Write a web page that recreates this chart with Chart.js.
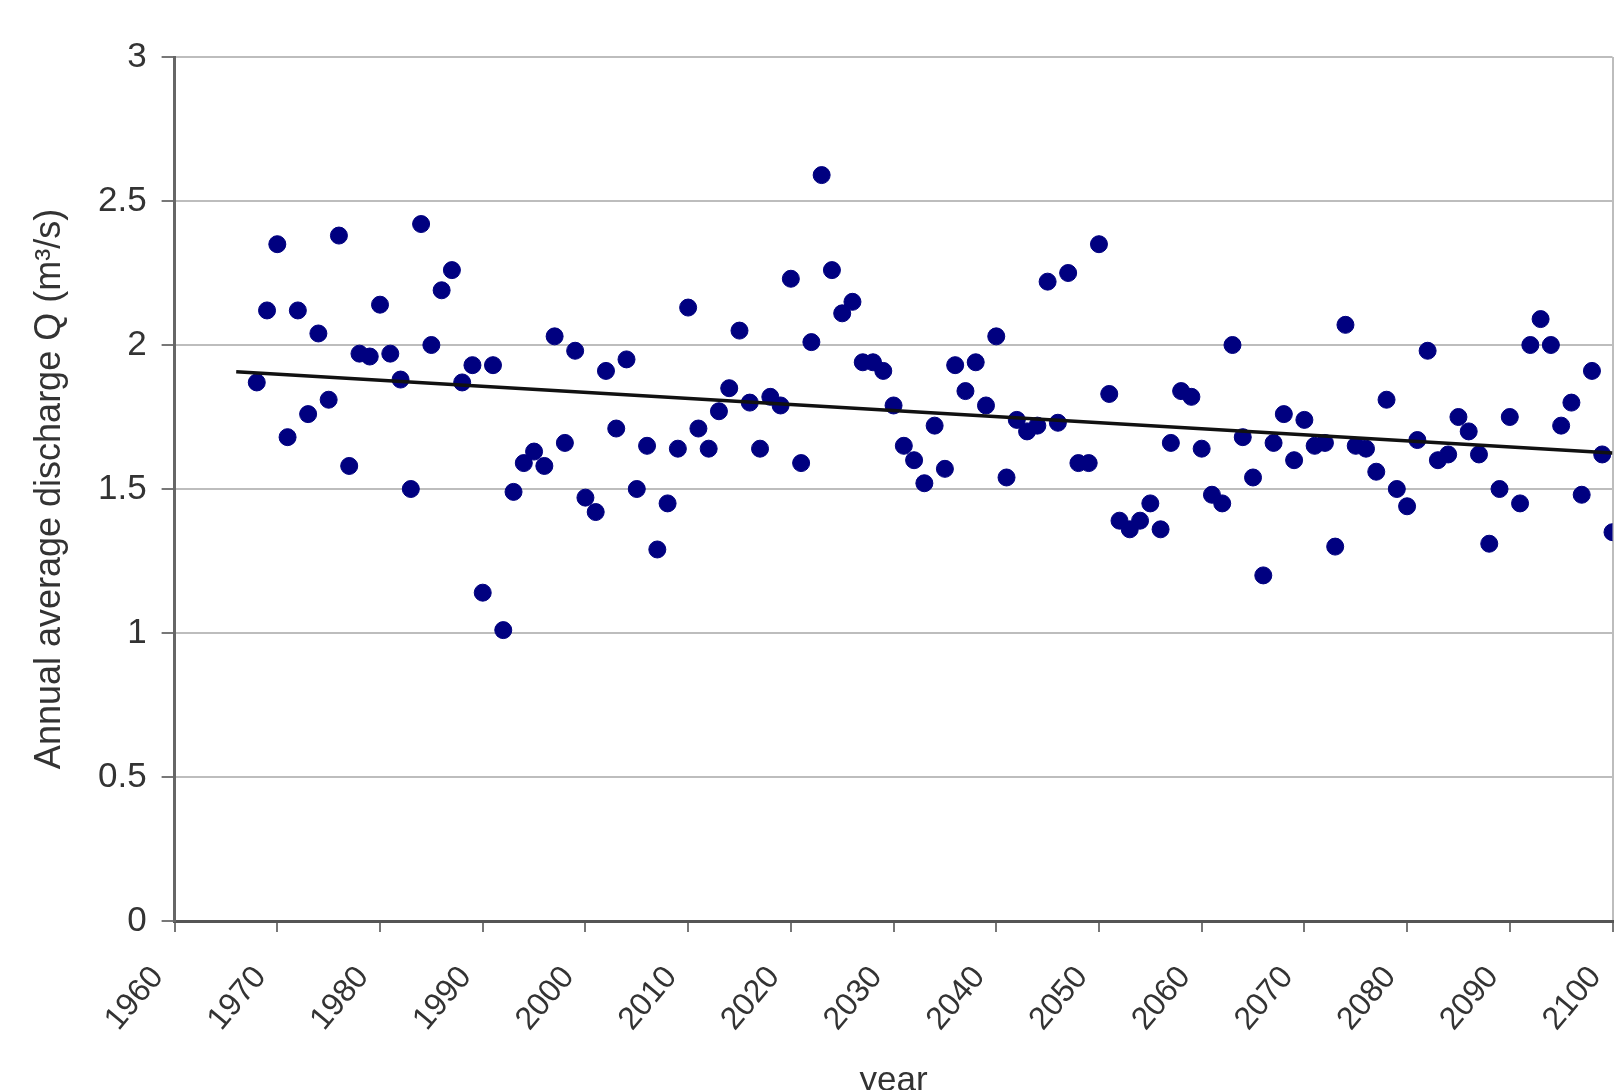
<!DOCTYPE html>
<html>
<head>
<meta charset="utf-8">
<script src="https://cdn.jsdelivr.net/npm/chart.js@4.4.1/dist/chart.umd.min.js"></script>
<style>
  html, body { margin: 0; padding: 0; background: #fff; }
  #wrap { width: 1622px; height: 1090px; }
</style>
</head>
<body>
<div id="wrap"><canvas id="chart" width="1622" height="1090"></canvas></div>
<script>
// yearly values
var years = [
  1968, 1969, 1970, 1971, 1972, 1973, 1974, 1975, 1976, 1977, 1978, 1979,
  1980, 1981, 1982, 1983, 1984, 1985, 1986, 1987, 1988, 1989,
  1990, 1991, 1992, 1993, 1994, 1995, 1996, 1997, 1998, 1999,
  2000, 2001, 2002, 2003, 2004, 2005, 2006, 2007, 2008, 2009,
  2010, 2011, 2012, 2013, 2014, 2015, 2016, 2017, 2018, 2019,
  2020, 2021, 2022, 2023, 2024, 2025, 2026, 2027, 2028, 2029,
  2030, 2031, 2032, 2033, 2034, 2035, 2036, 2037, 2038, 2039,
  2040, 2041, 2042, 2043, 2044, 2045, 2046, 2047, 2048, 2049,
  2050, 2051, 2052, 2053, 2054, 2055, 2056, 2057, 2058, 2059,
  2060, 2061, 2062, 2063, 2064, 2065, 2066, 2067, 2068, 2069,
  2070, 2071, 2072, 2073, 2074, 2075, 2076, 2077, 2078, 2079,
  2080, 2081, 2082, 2083, 2084, 2085, 2086, 2087, 2088, 2089,
  2090, 2091, 2092, 2093, 2094, 2095, 2096, 2097, 2098, 2099,
  2100
];
var discharge = [
  1.87, 2.12, 2.35, 1.68, 2.12, 1.76, 2.04, 1.81, 2.38, 1.58, 1.97, 1.96,
  2.14, 1.97, 1.88, 1.50, 2.42, 2.00, 2.19, 2.26, 1.87, 1.93,
  1.14, 1.93, 1.01, 1.49, 1.59, 1.63, 1.58, 2.03, 1.66, 1.98,
  1.47, 1.42, 1.91, 1.71, 1.95, 1.50, 1.65, 1.29, 1.45, 1.64,
  2.13, 1.71, 1.64, 1.77, 1.85, 2.05, 1.80, 1.64, 1.82, 1.79,
  2.23, 1.59, 2.01, 2.59, 2.26, 2.11, 2.15, 1.94, 1.94, 1.91,
  1.79, 1.65, 1.60, 1.52, 1.72, 1.57, 1.93, 1.84, 1.94, 1.79,
  2.03, 1.54, 1.74, 1.70, 1.72, 2.22, 1.73, 2.25, 1.59, 1.59,
  2.35, 1.83, 1.39, 1.36, 1.39, 1.45, 1.36, 1.66, 1.84, 1.82,
  1.64, 1.48, 1.45, 2.00, 1.68, 1.54, 1.20, 1.66, 1.76, 1.60,
  1.74, 1.65, 1.66, 1.30, 2.07, 1.65, 1.64, 1.56, 1.81, 1.50,
  1.44, 1.67, 1.98, 1.60, 1.62, 1.75, 1.70, 1.62, 1.31, 1.50,
  1.75, 1.45, 2.00, 2.09, 2.00, 1.72, 1.80, 1.48, 1.91, 1.62,
  1.35
];

// linear trend line, end points
var trendYears = [1966, 2100];
var trendValues = [1.907, 1.625];

var xTickValues = [1960, 1970, 1980, 1990, 2000, 2010, 2020, 2030, 2040, 2050, 2060, 2070, 2080, 2090, 2100];
var xTickLabels = ['1960', '1970', '1980', '1990', '2000', '2010', '2020', '2030', '2040', '2050', '2060', '2070', '2080', '2090', '2100'];
var yTickValues = [0, 0.5, 1, 1.5, 2, 2.5, 3];
var yTickLabels = ['0', '0.5', '1', '1.5', '2', '2.5', '3'];

var fontFamily = '"Liberation Sans", Arial, sans-serif';

var points = years.map(function(y, i) { return { x: y, y: discharge[i] }; });
var trend = trendYears.map(function(y, i) { return { x: y, y: trendValues[i] }; });

var ctx = document.getElementById('chart').getContext('2d');
new Chart(ctx, {
  type: 'scatter',
  data: {
    datasets: [{
      label: 'trend',
      data: trend,
      showLine: true,
      borderColor: '#111',
      borderWidth: 3.5,
      pointRadius: 0,
      fill: false
    }, {
      label: 'Q',
      data: points,
      backgroundColor: '#000080',
      borderColor: '#000080',
      borderWidth: 1,
      pointRadius: 8.5
    }]
  },
  plugins: [{
    id: 'whiteBg',
    beforeDraw: function(chart) {
      var c = chart.ctx;
      c.save();
      c.fillStyle = '#fff';
      c.fillRect(0, 0, chart.width, chart.height);
      c.restore();
    }
  }],
  options: {
    responsive: false,
    animation: false,
    layout: { padding: { left: 0, right: 4, top: 57, bottom: 0 } },
    plugins: {
      legend: { display: false },
      tooltip: { enabled: false }
    },
    scales: {
      x: {
        type: 'linear',
        position: 'bottom',
        min: 1960,
        max: 2100,
        afterBuildTicks: function(scale) {
          scale.ticks = xTickValues.map(function(v) { return { value: v }; });
        },
        afterFit: function(scale) {
          scale.height = 169;
          scale.paddingLeft = 0;
          scale.paddingRight = 0;
        },
        ticks: {
          autoSkip: false,
          minRotation: 50,
          maxRotation: 50,
          padding: 27,
          labelOffset: -17,
          color: '#333',
          font: { family: fontFamily, size: 32 },
          callback: function(value, index) { return xTickLabels[index]; }
        },
        grid: {
          drawOnChartArea: true,
          color: function(c) { return c.tick && c.tick.value === 2100 ? '#bdbdbd' : 'rgba(0,0,0,0)'; },
          tickColor: '#777',
          tickLength: 11,
          lineWidth: 2
        },
        border: { color: '#555', width: 3 },
        title: {
          display: true,
          text: 'year',
          color: '#333',
          font: { family: fontFamily, size: 35, lineHeight: 1 },
          padding: { top: 0, bottom: -9 }
        }
      },
      y: {
        min: 0,
        max: 3,
        afterBuildTicks: function(scale) {
          scale.ticks = yTickValues.map(function(v) { return { value: v }; });
        },
        afterFit: function(scale) {
          scale.width = 174.6;
          scale.paddingTop = 0;
          scale.paddingBottom = 0;
        },
        ticks: {
          padding: 15,
          color: '#333',
          font: { family: fontFamily, size: 35 },
          callback: function(value, index) { return yTickLabels[index]; }
        },
        grid: {
          color: '#bdbdbd',
          tickColor: '#777',
          tickLength: 13,
          lineWidth: 2
        },
        border: { color: '#666', width: 3 },
        title: {
          display: true,
          text: 'Annual average discharge Q (m\u00b3/s)',
          color: '#333',
          font: { family: fontFamily, size: 36, lineHeight: 1 },
          padding: { top: 32, bottom: 0 }
        }
      }
    }
  }
});
</script>
</body>
</html>
